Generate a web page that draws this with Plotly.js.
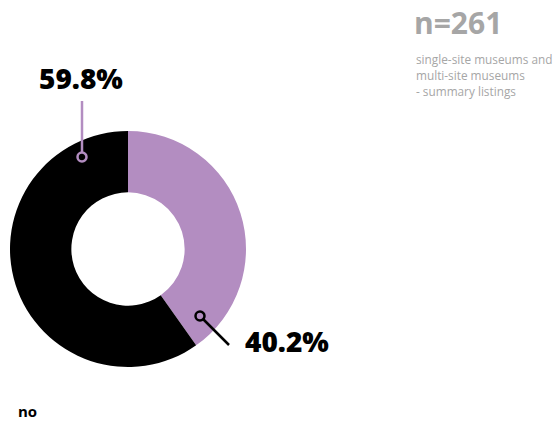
<!DOCTYPE html>
<html>
<head>
<meta charset="utf-8">
<script src="https://cdn.plot.ly/plotly-3.0.1.min.js"></script>
<style>html,body{margin:0;padding:0;background:#fff;}#chart{width:558px;height:424px;}</style>
</head>
<body>
<div id="chart"></div>
<script>
const labels = ["yes", "no"];
const values = [40.2, 59.8];
const colors = ["#b38dc1", "#000000"];
const valueLabels = ["40.2%", "59.8%"];
const nText = "n=261";
const subtitleLines = ["single-site museums and", "multi-site museums", "- summary listings"];
const legendText = "no";

const W = 558, H = 424;
const px = x => x / W;
const py = y => 1 - y / H;

const trace = {
  type: "pie",
  labels: labels,
  values: values,
  sort: false,
  direction: "clockwise",
  rotation: 0,
  hole: 0.48,
  marker: {colors: colors, line: {width: 0}},
  textinfo: "none",
  hoverinfo: "none",
  showlegend: false,
  domain: {x: [px(10), px(246)], y: [py(368), py(130)]}
};

const font = "Open Sans, Lato, sans-serif";
const layout = {
  width: W, height: H,
  margin: {l: 0, r: 0, t: 0, b: 0},
  paper_bgcolor: "#fff",
  plot_bgcolor: "#fff",
  showlegend: false,
  shapes: [
    {type: "line", xref: "paper", yref: "paper", x0: px(82), y0: py(101), x1: px(82), y1: py(153), line: {color: colors[0], width: 2.5}},
    {type: "circle", xref: "paper", yref: "paper", x0: px(77.5), y0: py(152.5), x1: px(86.5), y1: py(161.5), line: {color: colors[0], width: 2.5}, fillcolor: "rgba(0,0,0,0)"},
    {type: "line", xref: "paper", yref: "paper", x0: px(203), y0: py(319), x1: px(229), y1: py(345), line: {color: "#000", width: 2.5}},
    {type: "circle", xref: "paper", yref: "paper", x0: px(195.5), y0: py(311.5), x1: px(204.5), y1: py(320.5), line: {color: "#000", width: 2.5}, fillcolor: "rgba(0,0,0,0)"}
  ],
  annotations: [
    {xref: "paper", yref: "paper", x: px(81), y: py(78), text: valueLabels[1], showarrow: false, xanchor: "center", yanchor: "middle", font: {family: font, size: 28, weight: 800, color: "#000"}},
    {xref: "paper", yref: "paper", x: px(243), y: py(341), text: valueLabels[0], showarrow: false, xanchor: "left", yanchor: "middle", font: {family: font, size: 28, weight: 800, color: "#000"}},
    {xref: "paper", yref: "paper", x: px(412), y: py(22), text: nText, showarrow: false, xanchor: "left", yanchor: "middle", font: {family: font, size: 30, weight: 700, color: "#a6a6a6"}},
    {xref: "paper", yref: "paper", x: px(414), y: py(59), text: subtitleLines[0], showarrow: false, xanchor: "left", yanchor: "middle", font: {family: font, size: 11.8, color: "#a6a6a6"}},
    {xref: "paper", yref: "paper", x: px(414), y: py(75), text: subtitleLines[1], showarrow: false, xanchor: "left", yanchor: "middle", font: {family: font, size: 11.8, color: "#a6a6a6"}},
    {xref: "paper", yref: "paper", x: px(414), y: py(91), text: subtitleLines[2], showarrow: false, xanchor: "left", yanchor: "middle", font: {family: font, size: 11.8, color: "#a6a6a6"}},
    {xref: "paper", yref: "paper", x: px(16), y: py(411), text: legendText, showarrow: false, xanchor: "left", yanchor: "middle", font: {family: font, size: 15, weight: 700, color: "#000"}}
  ]
};

Plotly.newPlot("chart", [trace], layout, {displayModeBar: false, staticPlot: true});
</script>
</body>
</html>
